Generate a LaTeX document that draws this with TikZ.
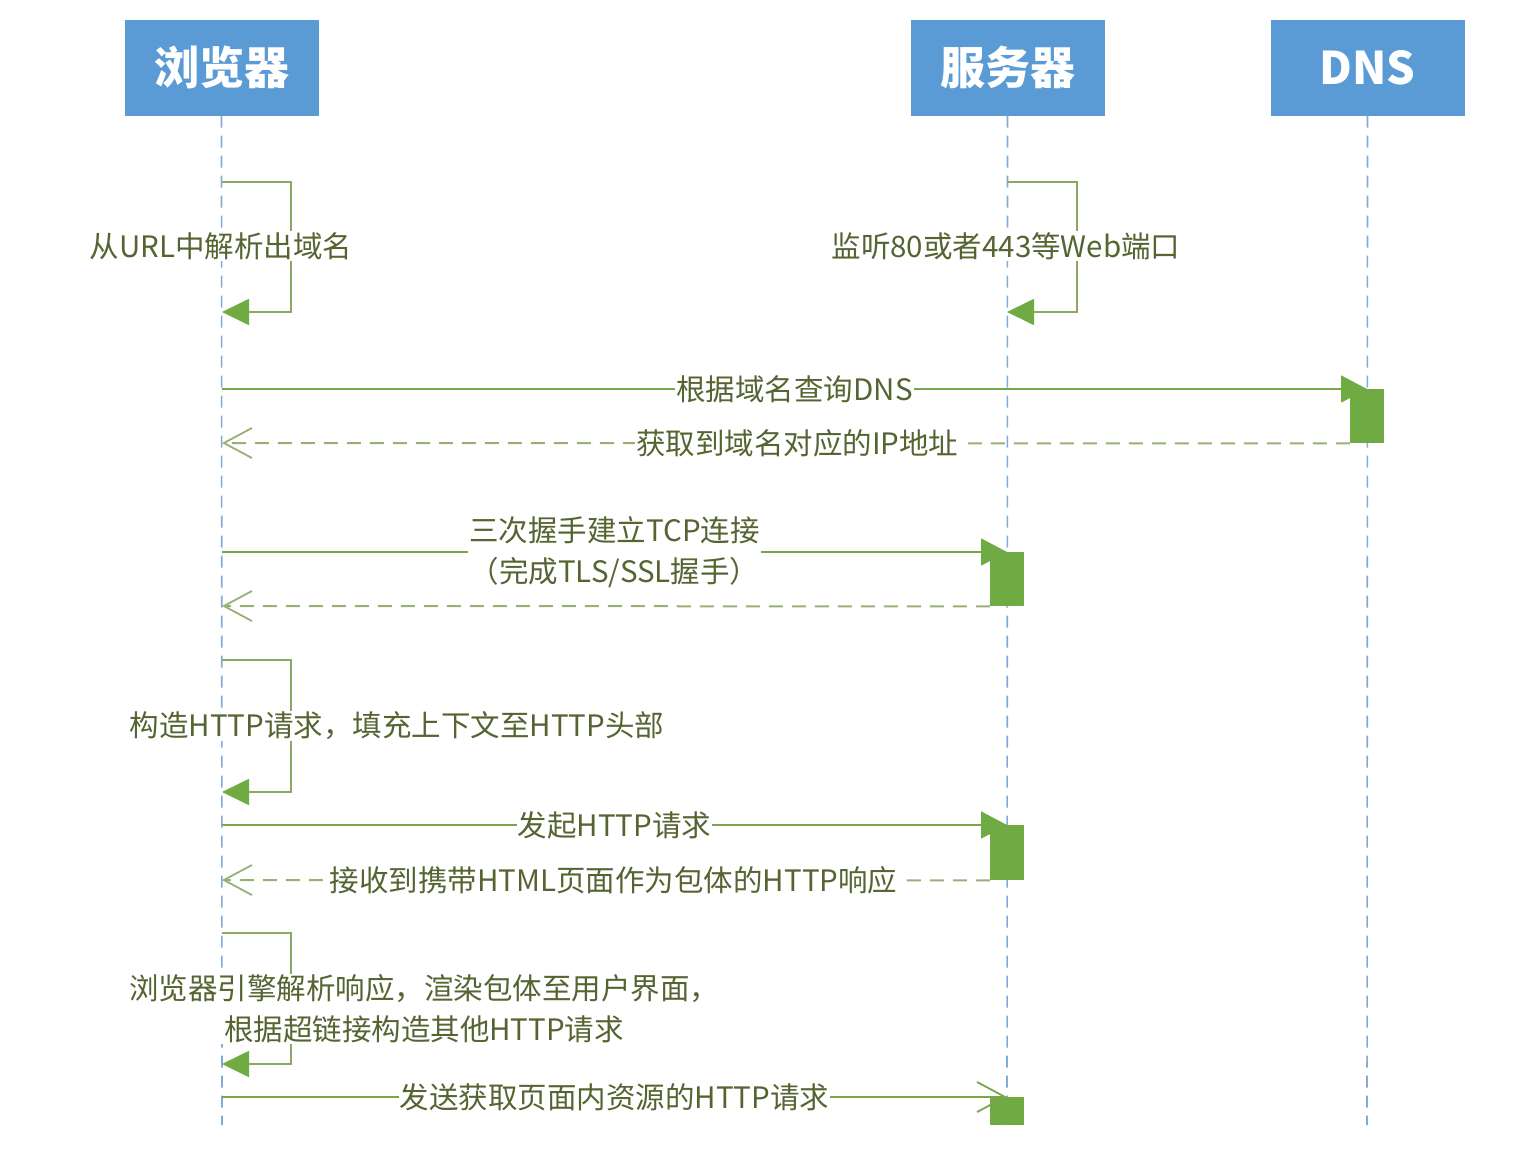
\documentclass[tikz,border=0pt]{standalone}
\usepackage{fontspec}
\setmainfont{Noto Sans CJK SC}
\usetikzlibrary{arrows.meta,positioning}

\definecolor{headblue}{RGB}{91,155,213}
\definecolor{lifeblue}{RGB}{130,170,215}
\definecolor{msggreen}{RGB}{120,166,74}
\definecolor{loopgreen}{RGB}{140,168,100}
\definecolor{retgreen}{RGB}{150,176,118}
\definecolor{actgreen}{RGB}{112,170,66}
\definecolor{labelolive}{RGB}{86,100,50}

\tikzset{
	head/.style={rectangle, fill=headblue, text=white, minimum width=194pt, minimum height=96pt, inner sep=0pt, font=\fontsize{45}{50}\selectfont\bfseries},
	lifeline/.style={lifeblue, line width=1.6pt, dash pattern=on 12pt off 8pt},
	actbox/.style={rectangle, fill=actgreen, minimum width=34pt, inner sep=0pt, anchor=north},
	syncmsg/.style={msggreen, line width=1.8pt, -{Triangle[length=26pt, width=27pt, color=actgreen]}},
	selfmsg/.style={loopgreen, line width=1.8pt, -{Triangle[length=27pt, width=26pt, color=actgreen]}},
	retmsg/.style={retgreen, line width=2pt, dash pattern=on 14pt off 9pt, -{Straight Barb[length=28pt, width=30pt, line width=1.8pt]}},
	openmsg/.style={msggreen, line width=1.8pt, -{Straight Barb[length=28pt, width=30pt, line width=1.8pt]}},
	msglabel/.style={fill=white, text=labelolive, inner sep=1pt, align=center, font=\fontsize{29.5}{41}\selectfont},
}

\begin{document}
\begin{tikzpicture}[x=1pt, y=-1pt]
	\useasboundingbox (0,0) rectangle (1536,1160);

	% participants
	\node[head] (browser) at (221.5,67.5) {浏览器};
	\node[head] (server) at (1007.5,67.5) {服务器};
	\node[head] (dns) at (1367.5,67.5) {DNS};

	\coordinate (browserend) at (222,1125);
	\coordinate (serverend) at (1007,1125);
	\coordinate (dnsend) at (1367,1125);
	\draw[lifeline] (browser.south) -- (browserend);
	\draw[lifeline] (server.south) -- (serverend);
	\draw[lifeline] (dns.south) -- (dnsend);

	% message points
	\coordinate (b1s) at (222,182);
	\coordinate (b1e) at (222,312);
	\coordinate (s1s) at (1007,182);
	\coordinate (s1e) at (1007,312);
	\coordinate (b2) at (222,389);
	\coordinate (d2) at (1367,389);
	\coordinate (b3) at (222,443);
	\coordinate (b4) at (222,552);
	\coordinate (s4) at (1007,552);
	\coordinate (b5) at (222,606);
	\coordinate (b6s) at (222,660);
	\coordinate (b6e) at (222,792);
	\coordinate (b7) at (222,825);
	\coordinate (s7) at (1007,825);
	\coordinate (b8) at (222,880);
	\coordinate (b9s) at (222,933);
	\coordinate (b9e) at (222,1064);
	\coordinate (b10) at (222,1097);
	\coordinate (s10) at (1007,1097);

	% activations
	\node[actbox, minimum height=54pt] (dnsact) at (d2) {};
	\node[actbox, minimum height=54pt] (tcpact) at (s4) {};
	\node[actbox, minimum height=55pt] (httpact) at (s7) {};
	\node[actbox, minimum height=28pt] (resact) at (s10) {};

	% messages
	\draw[selfmsg] (b1s) -- ++(69,0) |- (b1e);
	\draw[selfmsg] (s1s) -- ++(70,0) |- (s1e);
	\draw[syncmsg] (b2) -- node[msglabel] {根据域名查询DNS} (d2);
	\draw[retmsg] (dnsact.south west) -- node[msglabel, pos=0.49] {获取到域名对应的IP地址} (b3);
	\draw[syncmsg] (b4) -- node[msglabel] {三次握手建立TCP连接\\（完成TLS/SSL握手）} (s4);
	\draw[retmsg] (tcpact.south west) -- (b5);
	\draw[selfmsg] (b6s) -- ++(69,0) |- (b6e);
	\draw[syncmsg] (b7) -- node[msglabel] {发起HTTP请求} (s7);
	\draw[retmsg] (httpact.south west) -- node[msglabel, pos=0.49] {接收到携带HTML页面作为包体的HTTP响应} (b8);
	\draw[selfmsg] (b9s) -- ++(69,0) |- (b9e);
	\draw[openmsg] (b10) -- node[msglabel] {发送获取页面内资源的HTTP请求} (s10);

	% self message labels
	\node[msglabel] (parse) at (221,246) {从URL中解析出域名};
	\node[msglabel] (listen) at (1006,246) {监听80或者443等Web端口};
	\node[msglabel] (build) at (397,726) {构造HTTP请求，填充上下文至HTTP头部};
	\node[msglabel] (render) at (424,1009) {浏览器引擎解析响应，渲染包体至用户界面，\\根据超链接构造其他HTTP请求};
\end{tikzpicture}
\end{document}
